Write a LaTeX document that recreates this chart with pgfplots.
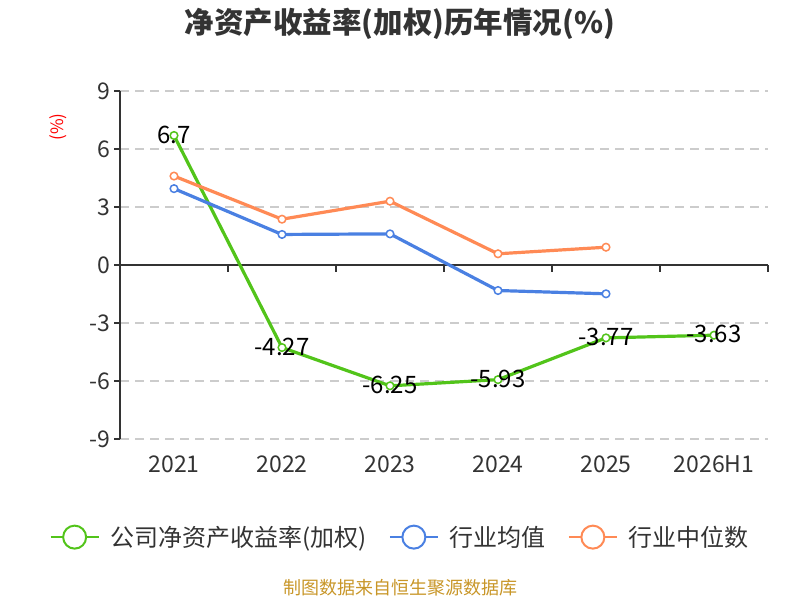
\documentclass[border=0pt]{standalone}
\usepackage{fontspec}
\setmainfont{Noto Sans CJK SC}
\usepackage{pgfplots}
\pgfplotsset{compat=1.18}
\definecolor{cgreen}{RGB}{82,196,26}
\definecolor{cblue}{RGB}{74,128,226}
\definecolor{corange}{RGB}{255,138,85}
\definecolor{ctext}{RGB}{51,51,51}
\definecolor{cgrid}{RGB}{204,204,204}
\definecolor{csrc}{RGB}{200,150,40}
\pgfplotstableread{
x y label
0 6.7 6.7
1 -4.27 -4.27
2 -6.25 -6.25
3 -5.93 -5.93
4 -3.77 -3.77
5 -3.63 -3.63
}\tgreen
\pgfplotstableread{
x y
0 3.95
1 1.58
2 1.61
3 -1.32
4 -1.49
}\tblue
\pgfplotstableread{
x y
0 4.60
1 2.37
2 3.30
3 0.58
4 0.92
}\torange
\begin{document}
\begin{tikzpicture}[x=1pt,y=1pt]
\useasboundingbox (0,0) rectangle (800,600);
\node[font=\fontsize{29.5}{32}\selectfont\bfseries, text=ctext] at (400,576) {净资产收益率(加权)历年情况(\%)};
\node[font=\fontsize{17}{20}\selectfont, text=red, rotate=90] at (58,473) {(\%)};
\node[font=\fontsize{18}{22}\selectfont, text=csrc] at (400,12) {制图数据来自恒生聚源数据库};
\begin{axis}[
  at={(120pt,161pt)}, anchor=south west,
  scale only axis, width=648pt, height=348pt,
  xmin=-0.5, xmax=5.5, ymin=-9, ymax=9,
  ytick={-9,-6,...,9},
  xtick={0,...,5}, xticklabels={2021,2022,2023,2024,2025,2026H1},
  axis y line*=left, axis x line*=bottom,
  x axis line style={draw=none},
  y axis line style={draw=ctext, line width=1.6pt},
  xtick style={draw=none},
  ytick style={draw=ctext, line width=1.6pt},
  tick align=outside, major tick length=6pt,
  ymajorgrids,
  grid style={cgrid, line width=1.3pt, dash pattern=on 9pt off 6pt},
  /pgf/number format/assume math mode=true,
  ticklabel style={font=\fontsize{23}{26}\selectfont, text=ctext},
  xticklabel style={yshift=-7pt},
  clip=false,
  legend columns=3,
  legend style={at={(0.4325,-0.282)}, anchor=center, draw=none, fill=none,
    font=\fontsize{24}{27}\selectfont, text=ctext,
    /tikz/every odd column/.append style={column sep=9pt},
    /tikz/every even column/.append style={column sep=20pt}},
  legend image code/.code={
    \draw[#1, line width=2pt, mark=none] (0pt,0pt) -- (48pt,0pt);
    \draw[#1, line width=2pt, fill=white, mark=none] (24pt,0pt) circle (11.5pt);
  },
]
\draw[ctext, line width=1.6pt] (axis cs:-0.5,0) -- (axis cs:5.5,0);
\draw[ctext, line width=1.6pt] (axis cs:0.5,0) -- ([yshift=-7pt]axis cs:0.5,0);
\draw[ctext, line width=1.6pt] (axis cs:1.5,0) -- ([yshift=-7pt]axis cs:1.5,0);
\draw[ctext, line width=1.6pt] (axis cs:2.5,0) -- ([yshift=-7pt]axis cs:2.5,0);
\draw[ctext, line width=1.6pt] (axis cs:3.5,0) -- ([yshift=-7pt]axis cs:3.5,0);
\draw[ctext, line width=1.6pt] (axis cs:4.5,0) -- ([yshift=-7pt]axis cs:4.5,0);
\draw[ctext, line width=1.6pt] (axis cs:5.5,0) -- ([yshift=-7pt]axis cs:5.5,0);
\addplot[cgreen, line width=3.2pt, mark=*, mark size=3.8pt,
  mark options={fill=white, draw=cgreen, line width=1.5pt},
  nodes near coords, point meta=explicit symbolic,
  every node near coord/.style={anchor=center, font=\fontsize{24}{26}\selectfont, text=black, yshift=1pt}]
  table[x=x, y=y, meta=label] {\tgreen};
\addlegendentry{公司净资产收益率(加权)}
\addplot[cblue, line width=3.2pt, mark=*, mark size=3.8pt,
  mark options={fill=white, draw=cblue, line width=1.5pt}]
  table[x=x, y=y] {\tblue};
\addlegendentry{行业均值}
\addplot[corange, line width=3.2pt, mark=*, mark size=3.8pt,
  mark options={fill=white, draw=corange, line width=1.5pt}]
  table[x=x, y=y] {\torange};
\addlegendentry{行业中位数}
\end{axis}
\end{tikzpicture}
\end{document}
